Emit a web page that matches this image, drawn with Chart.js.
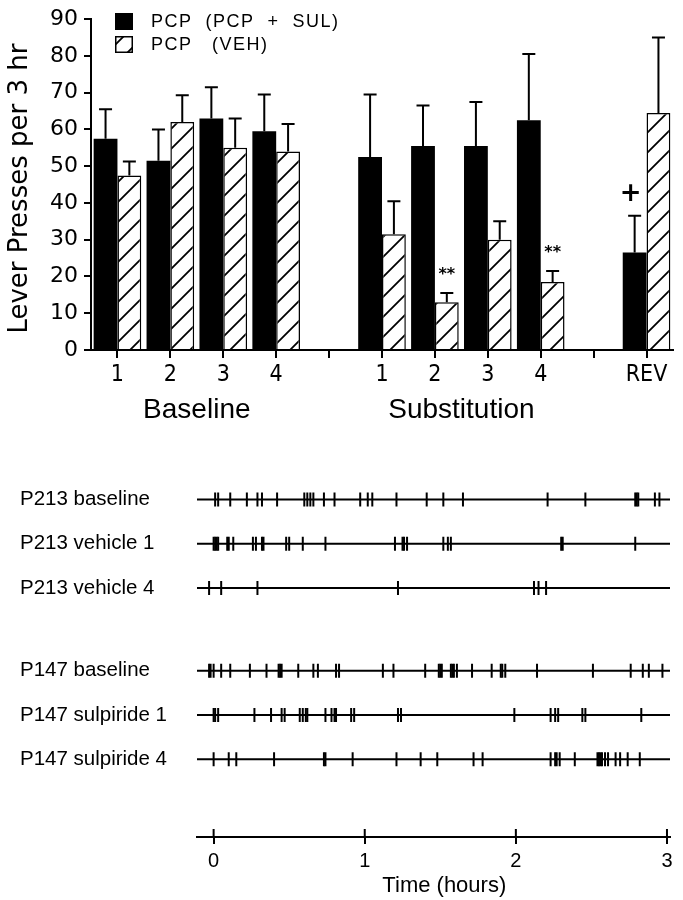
<!DOCTYPE html>
<html>
<head>
<meta charset="utf-8">
<title>Lever presses</title>
<script src="https://cdn.jsdelivr.net/npm/chart.js@4.4.1/dist/chart.umd.min.js"></script>
<style>
  html, body { margin: 0; padding: 0; background: #fff; }
  #page { position: relative; width: 683px; height: 900px; }
  #barBox { position: absolute; left: 0; top: 0; width: 683px; height: 440px; }
  #rasterBox { position: absolute; left: 0; top: 440px; width: 683px; height: 460px; }
</style>
</head>
<body>
<div id="page">
  <div id="barBox"><canvas id="barChart"></canvas></div>
  <div id="rasterBox"><canvas id="rasterChart"></canvas></div>
</div>
<script>
// ---- top panel: lever presses per 3 hr (mean + SEM) ----
const categories = ['1', '2', '3', '4', '', '1', '2', '3', '4', '', 'REV'];
const groupNames = ['Baseline', 'Substitution'];
const groupMembers = [[0, 1, 2, 3], [5, 6, 7, 8]];
const seriesNames = ['PCP  (PCP  +  SUL)', 'PCP   (VEH)'];
const yTitle = 'Lever Presses per 3 hr';

const sulMeans = [57.5, 51.5, 63, 59.5, null, 52.5, 55.5, 55.5, 62.5, null, 26.5];
const sulSem   = [8, 8.5, 8.5, 10, null, 17, 11, 12, 18, null, 10];
const vehMeans = [47.5, 62, 55, 54, null, 31.5, 13, 30, 18.5, null, 64.5];
const vehSem   = [3.8, 7.3, 8, 7.5, null, 9, 2.5, 5, 3, null, 20.5];
const sulMarks = ['', '', '', '', '', '', '', '', '', '', '+'];
const vehMarks = ['', '', '', '', '', '', '**', '', '**', '', ''];
const yMax = 90;

// ---- bottom panel: lever press times (hours) ----
const rowLabels = ['P213 baseline', 'P213 vehicle 1', 'P213 vehicle 4',
                   'P147 baseline', 'P147 sulpiride 1', 'P147 sulpiride 4'];
const p213Baseline = [0.01, 0.03, 0.11, 0.22, 0.29, 0.32, 0.42, 0.60, 0.62, 0.64, 0.66, 0.73, 0.80,
  0.97, 1.02, 1.05, 1.21, 1.41, 1.52, 1.65, 2.21, 2.46, 2.79, 2.80, 2.81, 2.92, 2.95];
const p213Vehicle1 = [0.00, 0.01, 0.02, 0.03, 0.09, 0.10, 0.13, 0.26, 0.28, 0.32, 0.33, 0.48, 0.50,
  0.59, 0.74, 1.20, 1.25, 1.26, 1.28, 1.52, 1.55, 1.57, 2.30, 2.31, 2.79];
const p213Vehicle4 = [-0.03, 0.05, 0.29, 1.22, 2.12, 2.15, 2.20];
const p147Baseline = [-0.03, -0.02, 0.00, 0.05, 0.11, 0.24, 0.35, 0.43, 0.44, 0.45, 0.56, 0.66, 0.69,
  0.81, 0.83, 1.12, 1.19, 1.40, 1.49, 1.50, 1.51, 1.57, 1.58, 1.59, 1.61, 1.71, 1.84, 1.90, 1.91,
  1.93, 2.14, 2.51, 2.76, 2.84, 2.88, 2.97];
const p147Sulpiride1 = [0.00, 0.01, 0.03, 0.27, 0.38, 0.45, 0.47, 0.57, 0.59, 0.61, 0.62, 0.74, 0.78,
  0.80, 0.81, 0.91, 0.93, 1.22, 1.24, 1.99, 2.23, 2.26, 2.28, 2.44, 2.46, 2.83];
const p147Sulpiride4 = [0.00, 0.10, 0.15, 0.40, 0.73, 0.74, 0.92, 1.21, 1.37, 1.48, 1.72, 1.78, 2.23,
  2.26, 2.27, 2.29, 2.39, 2.54, 2.55, 2.56, 2.57, 2.59, 2.61, 2.66, 2.69, 2.74, 2.82];
const timeTicks = [0, 1, 2, 3];
const timeMin = -0.11, timeMax = 3.02;

const narrow = '"Liberation Sans Narrow", "DejaVu Sans Condensed", "Liberation Sans", sans-serif';
const plain = '"Liberation Sans", Arial, sans-serif';
const round = '"DejaVu Sans", sans-serif';

function hatchPattern(ctx, size) {
    const c = document.createElement('canvas');
    c.width = size;
    c.height = size;
    const g = c.getContext('2d');
    g.fillStyle = '#fff';
    g.fillRect(0, 0, size, size);
    g.strokeStyle = '#000';
    g.lineWidth = 1.8;
    g.beginPath();
    g.moveTo(0, size); g.lineTo(size, 0);
    g.moveTo(-2, 2); g.lineTo(2, -2);
    g.moveTo(size - 2, size + 2); g.lineTo(size + 2, size - 2);
    g.stroke();
    return ctx.createPattern(c, 'repeat');
}

const barCtx = document.getElementById('barChart').getContext('2d');
const hatch = hatchPattern(barCtx, 20);

// one-sided error bars + significance marks
const errorBars = {
    id: 'errorBars',
    afterDatasetsDraw(chart) {
        const ctx = chart.ctx;
        const y = chart.scales.y;
        ctx.save();
        ctx.strokeStyle = '#000';
        ctx.fillStyle = '#000';
        ctx.lineWidth = 2;
        chart.data.datasets.forEach((ds, di) => {
            chart.getDatasetMeta(di).data.forEach((bar, i) => {
                const v = ds.data[i];
                if (v == null) return;
                const top = y.getPixelForValue(v + ds.errors[i]);
                ctx.beginPath();
                ctx.moveTo(bar.x, bar.y);
                ctx.lineTo(bar.x, top);
                ctx.moveTo(bar.x - 6.5, top);
                ctx.lineTo(bar.x + 6.5, top);
                ctx.stroke();
                const mark = ds.marks[i];
                if (mark) {
                    ctx.textAlign = 'center';
                    ctx.textBaseline = 'middle';
                    ctx.font = mark === '+' ? 'bold 26px "DejaVu Sans"' : 'bold 16px "DejaVu Sans"';
                    ctx.fillText(mark, mark === '+' ? bar.x - 4 : bar.x, top - (mark === '+' ? 22 : 18));
                }
            });
        });
        ctx.restore();
    }
};

const barDecor = {
    id: 'barDecor',
    afterDraw(chart) {
        const ctx = chart.ctx;
        const area = chart.chartArea;
        const x = chart.scales.x;
        ctx.save();
        // legend
        const lx = area.left + 24;
        [[13, 17], [36, 17]].forEach(([ty, h], i) => {
            const ds = chart.data.datasets[i];
            ctx.fillStyle = ds.backgroundColor;
            ctx.fillRect(lx, ty, 18, h);
            if (i === 1) {
                ctx.strokeStyle = '#000';
                ctx.lineWidth = 1.5;
                ctx.strokeRect(lx + 0.75, ty + 0.75, 16.5, h - 1.5);
            }
            ctx.fillStyle = '#000';
            ctx.font = '18px ' + plain;
            ctx.letterSpacing = '1.5px';
            ctx.textAlign = 'left';
            ctx.textBaseline = 'middle';
            ctx.fillText(ds.label, lx + 36, ty + h / 2 + 1);
        });
        ctx.letterSpacing = '0px';
        // rotated y title
        ctx.save();
        ctx.translate(27, (area.top + area.bottom) / 2 + 4);
        ctx.rotate(-Math.PI / 2);
        ctx.font = '26px ' + round;
        ctx.textAlign = 'center';
        ctx.textBaseline = 'alphabetic';
        ctx.fillText(yTitle, 0, 0);
        ctx.restore();
        // group names under the axis
        ctx.font = '28px ' + plain;
        ctx.textAlign = 'center';
        ctx.textBaseline = 'middle';
        groupNames.forEach((name, g) => {
            const idx = groupMembers[g];
            const cx = idx.reduce((s, i) => s + x.getPixelForTick(i), 0) / idx.length;
            ctx.fillText(name, cx, 410);
        });
        ctx.restore();
    }
};

new Chart(barCtx, {
    type: 'bar',
    data: {
        labels: categories,
        datasets: [
            { label: seriesNames[0], data: sulMeans, errors: sulSem, marks: sulMarks,
              backgroundColor: '#000', borderWidth: 0 },
            { label: seriesNames[1], data: vehMeans, errors: vehSem, marks: vehMarks,
              backgroundColor: hatch, borderColor: '#000', borderWidth: 1.5 }
        ]
    },
    options: {
        responsive: true,
        maintainAspectRatio: false,
        animation: false,
        layout: { padding: { top: 15, right: 10, left: 0, bottom: 0 } },
        datasets: { bar: { barPercentage: 1, categoryPercentage: 0.9 } },
        plugins: { legend: { display: false }, tooltip: { enabled: false } },
        scales: {
            x: {
                grid: { drawOnChartArea: false, offset: false, color: '#000', lineWidth: 2, tickLength: 8 },
                border: { color: '#000', width: 2 },
                ticks: { color: '#000', font: { family: narrow, size: 23 }, padding: 3, autoSkip: false, maxRotation: 0 },
                afterFit(s) { s.height = 90; }
            },
            y: {
                min: 0,
                max: yMax,
                grid: { drawOnChartArea: false, color: '#000', lineWidth: 2, tickLength: 7 },
                border: { color: '#000', width: 2 },
                ticks: { stepSize: 5, color: '#000', font: { family: round, size: 22 }, padding: 6,
                         callback: v => (v % 10 === 0 ? v : '') },
                afterFit(s) { s.width = 91; }
            }
        }
    },
    plugins: [errorBars, barDecor]
});

// ---- raster ----
const rasterRows = [p213Baseline, p213Vehicle1, p213Vehicle4, p147Baseline, p147Sulpiride1, p147Sulpiride4];
const rowPos = i => i + (i >= 3 ? 0.87 : 0);

const rasterSets = [];
rasterRows.forEach((times, i) => {
    rasterSets.push({
        type: 'line',
        data: [{ x: timeMin, y: rowPos(i) }, { x: timeMax, y: rowPos(i) }],
        borderColor: '#000', borderWidth: 2, pointRadius: 0
    });
    rasterSets.push({
        type: 'scatter',
        data: times.map(t => ({ x: t, y: rowPos(i) })),
        pointStyle: 'line', rotation: 90, pointRadius: 7,
        borderColor: '#000', backgroundColor: '#000', borderWidth: 2
    });
});

const timeAxisDecor = {
    id: 'timeAxisDecor',
    afterDraw(chart) {
        const ctx = chart.ctx;
        const x = chart.scales.x;
        const bottom = chart.chartArea.bottom;
        ctx.save();
        ctx.strokeStyle = '#000';
        ctx.lineWidth = 2;
        ctx.beginPath();
        timeTicks.forEach(t => {
            const px = x.getPixelForValue(t);
            ctx.moveTo(px, bottom - 8);
            ctx.lineTo(px, bottom);
        });
        ctx.stroke();
        ctx.fillStyle = '#000';
        ctx.font = '22px ' + plain;
        ctx.textAlign = 'center';
        ctx.textBaseline = 'middle';
        ctx.fillText('Time (hours)', x.getPixelForValue(1.5) + 4, 446);
        ctx.restore();
    }
};

new Chart(document.getElementById('rasterChart'), {
    type: 'scatter',
    data: { datasets: rasterSets },
    options: {
        responsive: true,
        maintainAspectRatio: false,
        animation: false,
        layout: { padding: { top: 13, left: 20, right: 13, bottom: 0 } },
        plugins: { legend: { display: false }, tooltip: { enabled: false } },
        scales: {
            x: {
                type: 'linear',
                min: timeMin,
                max: timeMax,
                afterBuildTicks(s) { s.ticks = timeTicks.map(v => ({ value: v })); },
                grid: { drawOnChartArea: false, color: '#000', lineWidth: 2, tickLength: 7 },
                border: { color: '#000', width: 2 },
                ticks: { color: '#000', font: { family: plain, size: 20 }, padding: 5, maxRotation: 0 },
                afterFit(s) { s.height = 63; }
            },
            y: {
                type: 'linear',
                reverse: true,
                min: -1,
                max: 7.63,
                afterBuildTicks(s) { s.ticks = rowLabels.map((_, i) => ({ value: rowPos(i) })); },
                grid: { display: false },
                border: { display: false },
                ticks: { color: '#000', font: { family: plain, size: 20.5 }, crossAlign: 'far',
                         autoSkip: false, callback: (v, i) => rowLabels[i] },
                afterFit(s) { s.width = 177; }
            }
        }
    },
    plugins: [timeAxisDecor]
});
</script>
</body>
</html>
